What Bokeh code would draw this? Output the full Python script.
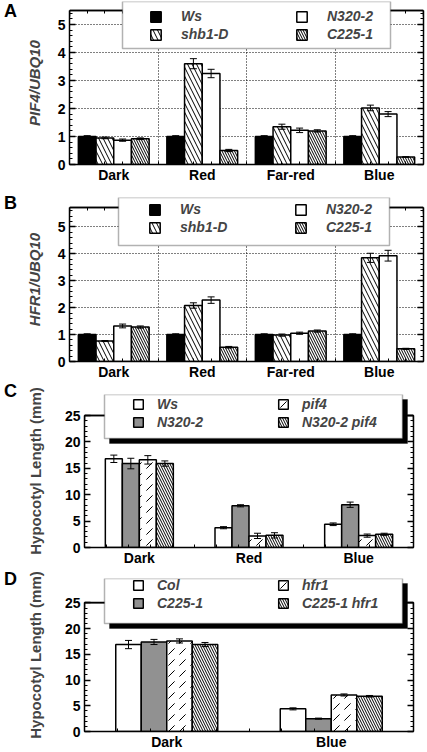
from bokeh.plotting import figure
from bokeh.layouts import column, row
from bokeh.models import (FactorRange, Range1d, LinearAxis, FixedTicker, SingleIntervalTicker,
                          Grid, Whisker, TeeHead, ColumnDataSource, Legend, LegendItem, Span,
                          BoxAnnotation, CanvasTexture, CustomLabelingPolicy, Div)
from bokeh.core.properties import value
from bokeh.transform import dodge
from bokeh.embed import file_html
from bokeh.resources import INLINE

FONT = "Liberation Sans"

# ---------------- data ----------------
# Panel A : PIF4/UBQ10
light_ab = ["Dark", "Red", "Far-red", "Blue"]
lines_ab = ["Ws", "shb1-D", "N320-2", "C225-1"]
pif4_ws = [1.00, 1.00, 1.00, 1.00]
pif4_shb1d = [0.95, 3.60, 1.35, 2.02]
pif4_n320 = [0.87, 3.25, 1.22, 1.80]
pif4_c225 = [0.92, 0.50, 1.20, 0.27]
pif4_ws_err = [0.03, 0.03, 0.03, 0.03]
pif4_shb1d_err = [0.03, 0.18, 0.09, 0.10]
pif4_n320_err = [0.04, 0.15, 0.08, 0.09]
pif4_c225_err = [0.03, 0.04, 0.04, 0.01]

# Panel B : HFR1/UBQ10
hfr1_ws = [1.00, 1.00, 1.00, 1.00]
hfr1_shb1d = [0.76, 2.08, 0.98, 3.85]
hfr1_n320 = [1.32, 2.28, 1.05, 3.93]
hfr1_c225 = [1.28, 0.53, 1.13, 0.47]
hfr1_ws_err = [0.03, 0.03, 0.03, 0.03]
hfr1_shb1d_err = [0.02, 0.10, 0.04, 0.17]
hfr1_n320_err = [0.07, 0.12, 0.04, 0.20]
hfr1_c225_err = [0.04, 0.03, 0.04, 0.02]

# Panel C : hypocotyl length
light_c = ["Dark", "Red", "Blue"]
lines_c = ["Ws", "N320-2", "pif4", "N320-2 pif4"]
hypc_ws = [16.8, 3.75, 4.40]
hypc_n320 = [15.9, 7.90, 8.10]
hypc_pif4 = [16.6, 2.20, 2.25]
hypc_n320pif4 = [15.9, 2.30, 2.50]
hypc_ws_err = [0.7, 0.2, 0.25]
hypc_n320_err = [1.0, 0.2, 0.5]
hypc_pif4_err = [0.8, 0.5, 0.3]
hypc_n320pif4_err = [0.5, 0.5, 0.2]

# Panel D : hypocotyl length
light_d = ["Dark", "Blue"]
lines_d = ["Col", "C225-1", "hfr1", "C225-1 hfr1"]
hypd_col = [16.9, 4.40]
hypd_c225 = [17.4, 2.50]
hypd_hfr1 = [17.6, 7.10]
hypd_c225hfr1 = [16.9, 6.85]
hypd_col_err = [0.8, 0.2]
hypd_c225_err = [0.5, 0.1]
hypd_hfr1_err = [0.4, 0.2]
hypd_c225hfr1_err = [0.4, 0.15]

# ---------------- styles ----------------
checker = CanvasTexture(code="""
const c = ctx.canvas;
const w = (c && c.width) ? c.width : scale;
const h = w / 2;
ctx.clearRect(0, 0, w, w);
ctx.fillStyle = color;
ctx.fillRect(h, 0, h, h);
ctx.fillRect(0, h, h, h);
""")

S_BLACK = dict(fill_color="black")
S_WHITE = dict(fill_color="white")
S_WIDE = dict(fill_color="white", hatch_pattern="left_diagonal_line", hatch_scale=9,
              hatch_weight=1, hatch_color="black")
S_DENSE = dict(fill_color="white", hatch_pattern="left_diagonal_line", hatch_scale=5,
               hatch_weight=1, hatch_color="black")
S_CHECK = dict(fill_color="white", hatch_pattern=value("checker"), hatch_extra={"checker": checker},
               hatch_scale=10, hatch_color="black")
S_DASH = dict(fill_color="white", hatch_pattern="right_diagonal_dash", hatch_scale=11,
              hatch_weight=1, hatch_color="black")

NO_LABELS = "for (const i of indices) { if (i < 0) yield i }"


def style_axis(ax, hide_labels=False, tick_in=6, minor_in=3):
    ax.axis_line_width = 1.5
    ax.major_tick_line_width = 1.5
    ax.minor_tick_line_width = 1
    ax.major_tick_in = tick_in
    ax.major_tick_out = 0
    ax.minor_tick_in = minor_in
    ax.minor_tick_out = 0
    ax.major_label_text_font = FONT
    ax.major_label_text_font_style = "bold"
    ax.major_label_text_font_size = "14px"
    ax.major_label_text_color = "black"
    if hide_labels:
        ax.major_label_policy = CustomLabelingPolicy(code=NO_LABELS)
        ax.major_label_text_font_size = "0px"
        ax.major_label_standoff = 0


def make_panel(cats, names, series, errors, styles, ymax, ystep, ylabel, ylabel_style,
               fig_h, geo, bar_w, ylab_standoff, leg, box, shadow, letter, letter_pad, grid):
    # geo: canvas pixels of the drawn frame (left, right, visible top, bottom)
    LW = 22
    fl, fr, ft, fb = geo
    bl, br, bt, bb = box
    n = len(cats)
    # the plotting frame is extended upward to the legend box top so the box is not clipped
    ytop = ymax * (fb - bt) / (fb - ft)
    p = figure(width=427 - LW, height=fig_h,
               x_range=FactorRange(factors=cats, range_padding=0),
               y_range=Range1d(0, ytop),
               x_axis_location=None, y_axis_location=None,
               output_backend="svg", toolbar_location=None,
               min_border_top=bt, min_border_bottom=fig_h - fb,
               min_border_left=fl - LW, min_border_right=427 - fr)
    p.xgrid.visible = False
    p.ygrid.visible = False
    p.outline_line_color = None
    p.background_fill_color = "white"
    p.border_fill_color = "white"

    # positions on the factor range's synthetic scale: category i spans [i, i+1]
    centers = [i + 0.5 for i in range(n)]
    bounds = list(range(n + 1))
    minors = [round(j * 0.2, 2) for j in range(5 * n + 1)]

    # y axes
    yt = SingleIntervalTicker(interval=ystep, num_minor_ticks=5)
    axl = LinearAxis(ticker=yt, axis_label=ylabel, bounds=(0, ymax))
    style_axis(axl)
    axl.major_label_standoff = 4
    axl.axis_label_text_font = FONT
    axl.axis_label_text_font_style = ylabel_style
    axl.axis_label_text_font_size = "15px"
    axl.axis_label_standoff = ylab_standoff
    p.add_layout(axl, "left")
    axr = LinearAxis(ticker=yt, bounds=(0, ymax))
    style_axis(axr, hide_labels=True)
    p.add_layout(axr, "right")

    # x axes (labels at category centres)
    axb = LinearAxis(ticker=FixedTicker(ticks=centers, minor_ticks=minors),
                     major_label_overrides={c: nm for c, nm in zip(centers, cats)})
    style_axis(axb, tick_in=0, minor_in=3)
    axb.major_label_standoff = 2
    p.add_layout(axb, "below")
    axt = LinearAxis(ticker=FixedTicker(ticks=bounds, minor_ticks=minors), fixed_location=ymax)
    style_axis(axt, hide_labels=True, tick_in=6, minor_in=3)
    p.add_layout(axt, "above")

    if grid:
        p.add_layout(Grid(dimension=1, ticker=FixedTicker(ticks=list(range(1, int(ymax) + 1))),
                          grid_line_color="black", grid_line_dash="1 2", grid_line_width=1))
        p.add_layout(Grid(dimension=0, ticker=FixedTicker(ticks=bounds[1:-1]),
                          cross_bounds=(0, ymax),
                          grid_line_color="black", grid_line_dash="1 2", grid_line_width=1))

    k = len(names)
    items = []
    for i, (nm, vals, errs, sty) in enumerate(zip(names, series, errors, styles)):
        off = (i - (k - 1) / 2) * bar_w
        src = ColumnDataSource(dict(x=cats, top=vals,
                                    upper=[v + e for v, e in zip(vals, errs)],
                                    lower=[v - e for v, e in zip(vals, errs)]))
        r = p.vbar(x=dodge("x", off, range=p.x_range), top="top", width=bar_w, source=src,
                   line_color="black", line_width=1.5, **sty)
        items.append(LegendItem(label=nm, renderers=[r]))
        w = Whisker(base=dodge("x", off, range=p.x_range), upper="upper", lower="lower",
                    source=src, line_width=1, line_color="black", level="annotation",
                    upper_head=TeeHead(size=7, line_width=1, line_color="black"),
                    lower_head=TeeHead(size=7, line_width=1, line_color="black"))
        p.add_layout(w)

    # top edge of the visible frame
    p.add_layout(Span(location=ymax, dimension="width", line_color="black", line_width=1.5))

    cx = lambda v: v - LW
    if shadow:
        p.add_layout(BoxAnnotation(left=cx(bl) + 5, right=cx(br) + 5, top=bt + 5, bottom=bb + 5,
                                   left_units="canvas", right_units="canvas",
                                   top_units="canvas", bottom_units="canvas",
                                   fill_color="black", fill_alpha=1, line_color="black"))
    p.add_layout(BoxAnnotation(left=cx(bl), right=cx(br), top=bt, bottom=bb,
                               left_units="canvas", right_units="canvas",
                               top_units="canvas", bottom_units="canvas",
                               fill_color="white", fill_alpha=1, line_color="black",
                               line_width=1.5))

    legend = Legend(items=items, location=leg["loc"], ncols=2, padding=0, margin=0,
                    spacing=leg["spacing"], label_standoff=leg["standoff"],
                    glyph_width=leg["glyph"], glyph_height=leg["glyph"],
                    label_width=leg["lw"], label_height=leg["glyph"],
                    label_text_font=FONT, label_text_font_style="bold italic",
                    label_text_font_size="14px",
                    background_fill_alpha=0, border_line_color=None)
    p.add_layout(legend)

    tag = Div(text=letter, width=LW, height=30, margin=0,
              styles={"font-family": FONT, "font-weight": "bold", "font-size": "18px",
                      "line-height": "18px", "padding-top": f"{letter_pad}px",
                      "padding-left": "4px", "color": "black"})
    return row(tag, p, spacing=0, margin=0)


pa = make_panel(light_ab, lines_ab,
                [pif4_ws, pif4_shb1d, pif4_n320, pif4_c225],
                [pif4_ws_err, pif4_shb1d_err, pif4_n320_err, pif4_c225_err],
                [S_BLACK, S_WIDE, S_WHITE, S_DENSE],
                5.5, 1, "PIF4/UBQ10", "bold italic",
                185, (68, 423, 10, 164), 0.2, 12,
                dict(loc=(80, 122), spacing=2, standoff=19, glyph=13, lw=112),
                (122, 390, 1, 48), False, "A", 2, True)

pb = make_panel(light_ab, lines_ab,
                [hfr1_ws, hfr1_shb1d, hfr1_n320, hfr1_c225],
                [hfr1_ws_err, hfr1_shb1d_err, hfr1_n320_err, hfr1_c225_err],
                [S_BLACK, S_WIDE, S_WHITE, S_DENSE],
                5.72, 1, "HFR1/UBQ10", "bold italic",
                197, (68, 423, 22, 176), 0.2, 12,
                dict(loc=(79, 126), spacing=2, standoff=19, glyph=13, lw=112),
                (118, 389, 12, 60), False, "B", 9, True)

pc = make_panel(light_c, lines_c,
                [hypc_ws, hypc_n320, hypc_pif4, hypc_n320pif4],
                [hypc_ws_err, hypc_n320_err, hypc_pif4_err, hypc_n320pif4_err],
                [S_WHITE, S_CHECK, S_DASH, S_DENSE],
                25, 5, "Hypocotyl Length (mm)", "bold",
                186, (84, 413, 33, 165), 0.155, 18,
                dict(loc=(48, 117), spacing=2, standoff=13, glyph=12, lw=118),
                (104, 402, 12, 56), True, "C", 0, False)

pd_ = make_panel(light_d, lines_d,
                 [hypd_col, hypd_c225, hypd_hfr1, hypd_c225hfr1],
                 [hypd_col_err, hypd_c225_err, hypd_hfr1_err, hypd_c225hfr1_err],
                 [S_WHITE, S_CHECK, S_DASH, S_DENSE],
                 25, 5, "Hypocotyl Length (mm)", "bold",
                 184, (84, 413, 35, 167), 0.155, 18,
                 dict(loc=(48, 120), spacing=2, standoff=13, glyph=12, lw=118),
                 (104, 402, 10, 55), True, "D", 2, False)

layout = column(pa, pb, pc, pd_, spacing=0)

open("out.html", "w").write(file_html(layout, INLINE))
